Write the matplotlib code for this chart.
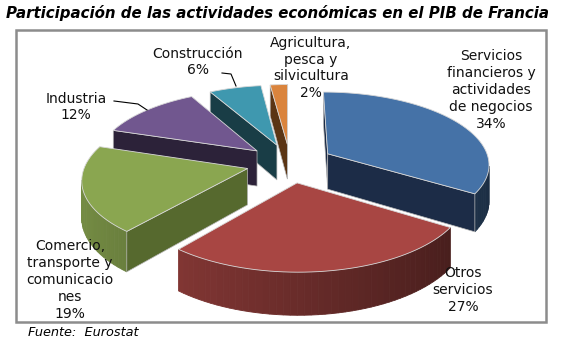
import numpy as np
import matplotlib.pyplot as plt
from matplotlib.patches import Polygon, Rectangle

# data
sectors = ["Servicios\nfinancieros y\nactividades\nde negocios", "Otros\nservicios",
           "Comercio,\ntransporte y\ncomunicacio\nnes", "Industria", "Construcción",
           "Agricultura,\npesca y\nsilvicultura"]
shares = [34, 27, 19, 12, 6, 2]

top_cols = ["#4572A7", "#A84643", "#8AA650", "#71578F", "#3F98AF", "#DA843D"]
face_cols = ["#1C2C47", "#4A1C1B", "#56692E", "#2C2239", "#193D46", "#5B3514"]
label_xy = [(491, 90), (463, 290), (70, 280), (76, 107), (198, 62), (311, 68)]

# projection of the tilted pie (pixel coords, y down)
cx, cy = 290, 163
rx, ry = 162, 72
kp = 0.13
depth = 36
explode = 0.27


def proj(U, V, z):
    s = 1.0 / (1.0 + kp * V)
    return (cx + rx * U * s, cy - ry * V * s + depth * s * z)


def area(pts):
    p = np.array(pts)
    x, y = p[:, 0], -p[:, 1]
    return 0.5 * np.sum(x * np.roll(y, -1) - np.roll(x, -1) * y)


fig = plt.figure(figsize=(5.61, 3.53), dpi=100)
ax = fig.add_axes([0, 0, 1, 1])
ax.set_xlim(0, 561)
ax.set_ylim(353, 0)
ax.axis("off")

ax.add_patch(Rectangle((16, 30), 530, 292, fill=False, ec="#8C8C8C", lw=1.8))
ax.text(6, 13, "Participación de las actividades económicas en el PIB de Francia",
        fontsize=10.8, fontweight="bold", style="italic", va="center", ha="left")

total = float(sum(shares))
t1s = []
start = 90.0
for v in shares:
    t1s.append((start, start - v / total * 360.0))
    start -= v / total * 360.0

order = sorted(range(len(shares)),
               key=lambda i: -np.sin(np.radians(sum(t1s[i]) / 2)))

for i in order:
    t1, t2 = t1s[i]
    mid = np.radians((t1 + t2) / 2)
    ou, ov = explode * np.cos(mid), explode * np.sin(mid)
    n = max(4, int((t1 - t2) / 2))
    angs = np.radians(np.linspace(t2, t1, n))  # increasing
    outer = [(ou + np.cos(a), ov + np.sin(a)) for a in angs]
    apex = (ou, ov)
    top_c = np.array(plt.matplotlib.colors.to_rgb(top_cols[i]))

    # outer wall segments
    for j in range(n - 1):
        a, b = outer[j], outer[j + 1]
        quad = [proj(*a, 1), proj(*b, 1), proj(*b, 0), proj(*a, 0)]
        if area(quad) > 0:
            th = (angs[j] + angs[j + 1]) / 2
            f = 0.4 + 0.45 * (1 - np.cos(th)) / 2
            col = np.clip(top_c * f, 0, 1)
            ax.add_patch(Polygon(quad, closed=True, fc=col, ec=col, lw=0.6))

    # radial faces
    o1, o2 = outer[-1], outer[0]
    f1 = [proj(*o1, 1), proj(*apex, 1), proj(*apex, 0), proj(*o1, 0)]
    f2 = [proj(*apex, 1), proj(*o2, 1), proj(*o2, 0), proj(*apex, 0)]
    for face in (f1, f2):
        if area(face) > 0:
            ax.add_patch(Polygon(face, closed=True, fc=face_cols[i],
                                 ec="#B8B8B8", lw=0.5))

    top = [proj(*apex, 0)] + [proj(u, v, 0) for u, v in outer]
    ax.add_patch(Polygon(top, closed=True, fc=top_cols[i], ec="#D8D8D8", lw=0.6))

# labels
for i, (lx, ly) in enumerate(label_xy):
    ax.text(lx, ly, f"{sectors[i]}\n{shares[i]}%", ha="center", va="center",
            fontsize=10, linespacing=1.25, color="#111111")

ax.plot([114, 138, 147], [101, 104, 110], color="black", lw=0.8)
ax.plot([222, 231, 236], [73, 74, 86], color="black", lw=0.8)

ax.text(28, 333, "Fuente:  Eurostat", fontsize=9.3, style="italic", va="center")

fig.savefig("out.png", dpi=100)
